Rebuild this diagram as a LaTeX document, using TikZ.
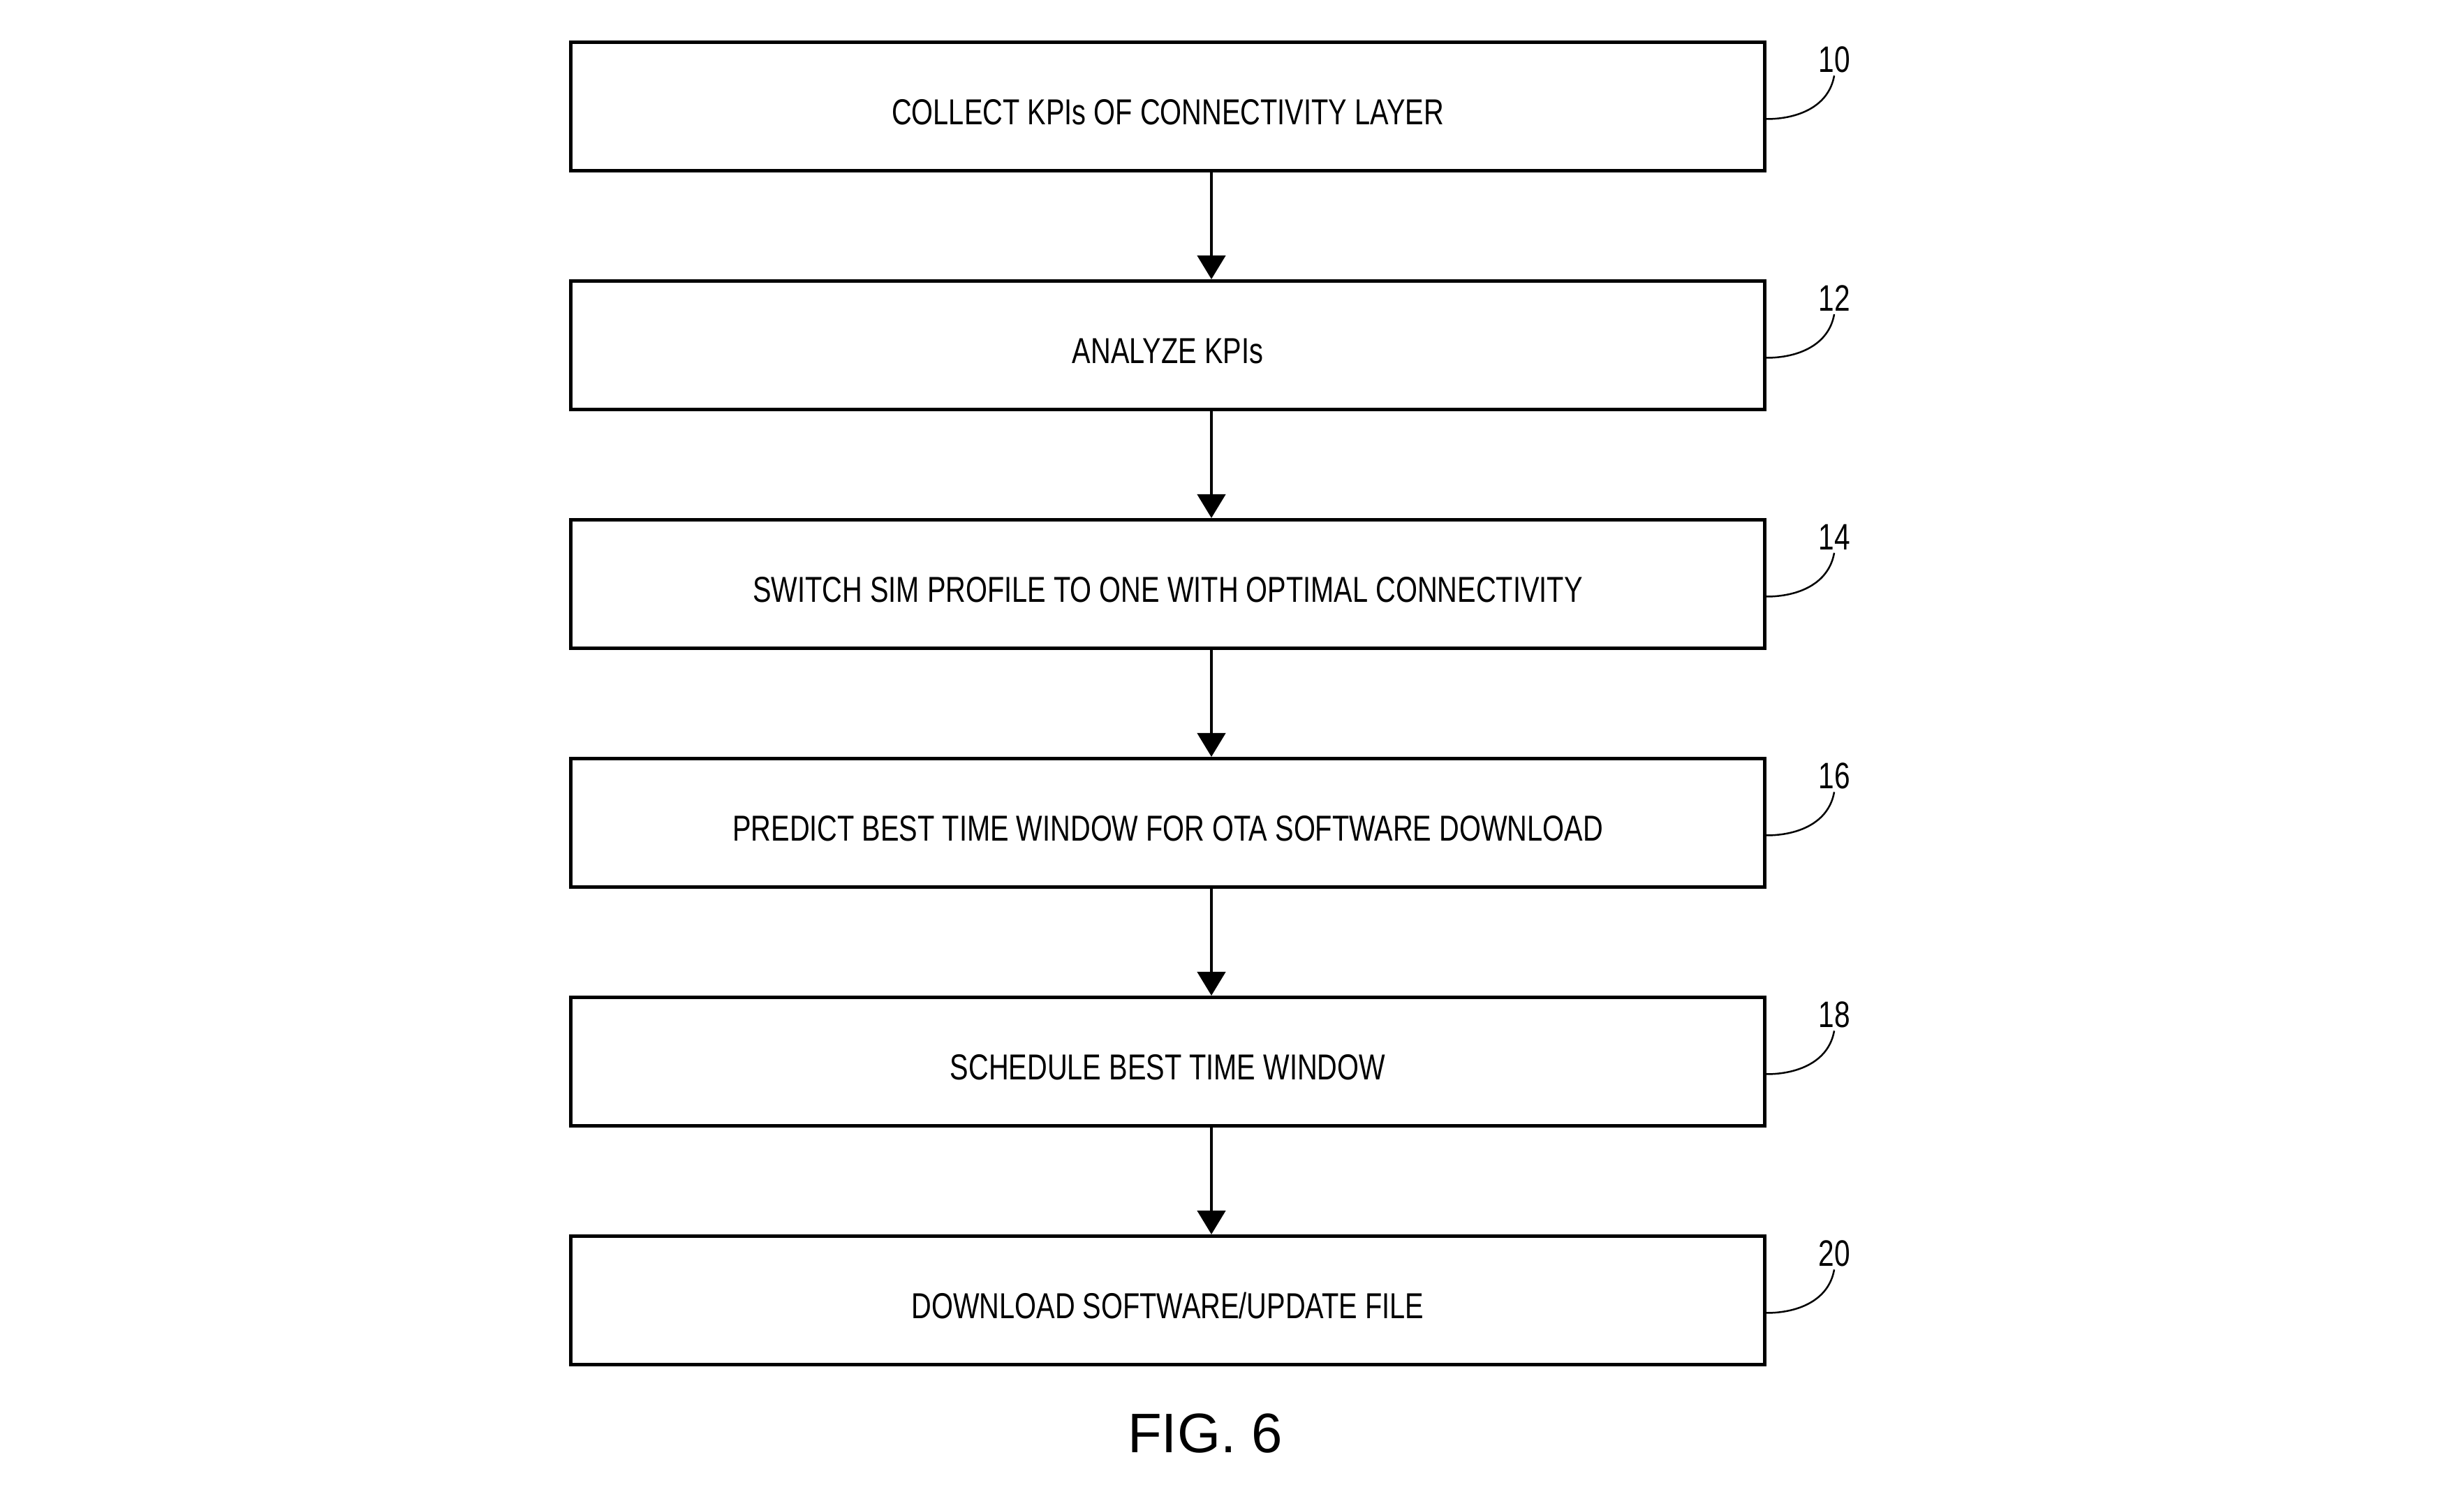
\documentclass[tikz,border=0pt]{standalone}
\usepackage{fontspec}
\setmainfont{Liberation Sans}
\newfontfamily\narrowfont[FakeStretch=0.77]{Liberation Sans}
\usetikzlibrary{arrows.meta}

\begin{document}
\begin{tikzpicture}[
        x=1 cm,
        y=1 cm,
        stepbox/.style={draw=black, line width=0.05cm, minimum width=17.1cm,
            minimum height=1.84cm, inner sep=0pt, text height=0.53cm, text depth=0cm,
            font=\narrowfont\fontsize{14.7}{17}\selectfont},
        reflabel/.style={inner sep=0.04cm, font=\narrowfont\fontsize{15}{18}\selectfont},
        flow/.style={-{Triangle[width=0.4cm, length=0.34cm]}, line width=0.045cm},
        leader/.style={line width=0.025cm}]
\useasboundingbox (0,0) rectangle (35.29,21.47);
\foreach \num/\txt [count=\i from 0] in {10/{COLLECT KPIs OF CONNECTIVITY LAYER},
        12/{ANALYZE KPIs},
        14/{SWITCH SIM PROFILE TO ONE WITH OPTIMAL CONNECTIVITY},
        16/{PREDICT BEST TIME WINDOW FOR OTA SOFTWARE DOWNLOAD},
        18/{SCHEDULE BEST TIME WINDOW},
        20/{DOWNLOAD SOFTWARE/UPDATE FILE}}{
    \node[stepbox] (s\num) at (16.725, 19.945-3.42*\i) {\txt};
    \node[reflabel] (l\num) at (26.27, 20.62-3.42*\i) {\num};
    \draw[leader] ([yshift=-0.18cm]s\num.east) to[out=0, in=-100] (l\num.south);
}
\foreach \a/\b in {10/12, 12/14, 14/16, 16/18, 18/20}{
    \draw[flow] ([xshift=0.625cm]s\a.south) -- ([xshift=0.625cm]s\b.north);
}
\node[font=\fontsize{22.7}{27}\selectfont] (fig) at (17.26, 0.94) {FIG. 6};
\end{tikzpicture}
\end{document}
